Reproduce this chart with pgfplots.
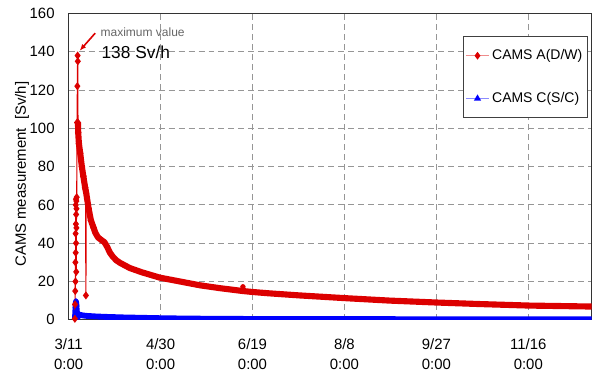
\documentclass[border=0pt]{standalone}
\usepackage{pgfplots}
\pgfplotsset{compat=1.18}
\usetikzlibrary{arrows.meta}
\usepackage{fontspec}
\setmainfont{Liberation Sans}
\definecolor{cred}{RGB}{220,0,0}
\definecolor{cblue}{RGB}{0,0,255}
\definecolor{gridgray}{RGB}{150,150,150}
\begin{document}
\begin{tikzpicture}
\begin{axis}[
  name=ax,
  scale only axis,
  width=392.5pt, height=229.9pt,
  xmin=0, xmax=284.4, ymin=0, ymax=160,
  xtick={0,50,100,150,200,250},
  xticklabels={{3/11\\0:00},{4/30\\0:00},{6/19\\0:00},{8/8\\0:00},{9/27\\0:00},{11/16\\0:00}},
  ytick={0,20,...,160},
  xtick pos=bottom, ytick pos=left,
  tick align=inside,
  major tick length=3pt,
  tick style={gridgray, line width=0.6pt},
  grid=major,
  major grid style={gridgray, dash pattern=on 4.5pt off 3pt, line width=0.6pt},
  axis line style={black!80, line width=0.7pt},
  /pgf/number format/assume math mode=true,
  tick label style={font=\fontsize{11.2}{14.5}\selectfont},
  xticklabel style={align=center, yshift=-11pt},
  yticklabel style={xshift=-7pt},
  ylabel={CAMS measurement\ \ [Sv/h]},
  ylabel style={at={(axis description cs:-0.089,0.475)}, anchor=center, font=\fontsize{11.2}{13}\selectfont},
  legend style={at={(0.992,0.9266)}, anchor=north east, draw=black!75, line width=0.6pt,
    inner xsep=1.5pt, inner ysep=8pt, row sep=19pt, font=\fontsize{10.5}{12}\selectfont,
    cells={anchor=west}},
  legend cell align=left,
  clip=true,
]
% CAMS C (S/C) - blue
\addplot[cblue, line width=4.4pt, line join=round, forget plot] coordinates {
(3.4,0.2)(3.6,3)(3.8,7)(4.0,9.5)(4.2,8)(4.4,5)(4.6,1.5)(4.8,0.4)(5.0,3)(6,2.6)(8,2.2)(10,2.0)(15,1.7)(20,1.5)(30,1.2)(40,1.0)(50,0.8)(65,0.6)(80,0.5)(100,0.4)(125,0.35)(150,0.3)(175,0.3)(200,0.25)(225,0.25)(250,0.2)(284.4,0.2)
};
\addplot[cblue, only marks, mark=triangle*, mark size=2.4pt, forget plot] coordinates {
(3.6,3)(3.8,7)(4.0,9.5)(4.2,8)(4.4,5)(5.0,3)
};
% CAMS A (D/W) - red, early spike (thin)
\addplot[cred, line width=0.8pt, mark=diamond*, mark size=2.4pt, forget plot] coordinates {
(3.4,0.5)(3.5,8)(3.6,15)(3.7,30)(3.75,20)(3.8,45)(3.85,35)(3.9,60)(3.95,50)(4.0,63)(4.05,40)(4.1,55)(4.15,25)(4.2,62)(4.25,48)(4.3,58)(4.4,64)(4.6,103)(4.75,122)(4.9,138)(5.0,135)(5.1,103)
};
\addplot[cred, line width=0.8pt, mark=diamond*, mark size=2.4pt, forget plot] coordinates {
(9.2,68)(9.4,12.7)(9.6,66)
};
% CAMS A (D/W) - red, decay (dense)
\addplot[cred, line width=4.6pt, line join=round, forget plot] coordinates {
(5.1,103)(5.2,98)(5.6,92)(6.3,87)(7.2,80)(8.0,75)(9.0,69)(9.6,66)(10.9,58)(12.1,52)(13.6,48)(14.5,45.5)(16,43)(18,41.5)(19.5,40.5)(21,38)(22.5,35)(24,33)(26,31)(28,29.7)(33.3,27)(39.8,24.8)(49.6,22)(60.5,20)(71.4,18)(82.2,16.5)(94.8,15)(100,14.5)(109,13.8)(125.7,12.7)(150,11.3)(174.6,10)(200,9)(223.5,8.2)(250.7,7.4)(284.4,6.9)
};
\addplot[cred, only marks, mark=diamond*, mark size=3pt, forget plot] coordinates {
(5.2,98)(5.6,92)(6.3,87)(7.2,80)(8.0,75)(9.0,69)(10.9,58)(12.1,52)(13.6,48)
};
\addplot[cred, only marks, mark=*, mark size=1.8pt, forget plot] coordinates {(94.8,17.2)};
\addlegendimage{cred!45, line width=0.9pt, mark=diamond*, mark size=2.2pt, mark options={cred}}
\addlegendentry{CAMS A(D/W)}
\addlegendimage{cblue!45, line width=0.9pt, mark=triangle*, mark size=2.2pt, mark options={cblue}}
\addlegendentry{CAMS C(S/C)}
\draw[cred, line width=1.2pt, -{Latex[length=5pt,width=4pt]}] (axis cs:14.45,149.7) -- (axis cs:6.0,140.5);
\node[anchor=west, text=black!60, font=\fontsize{9}{10}\selectfont, inner sep=0pt] at (axis cs:17.3,150) {maximum value};
\node[anchor=west, text=black, font=\fontsize{13}{15}\selectfont, inner sep=0pt] at (axis cs:17.8,139.8) {138 Sv/h};
\end{axis}
\path ([xshift=-51.5pt,yshift=-39.75pt]ax.south west) rectangle ([yshift=10.1pt]ax.north east);
\end{tikzpicture}
\end{document}
